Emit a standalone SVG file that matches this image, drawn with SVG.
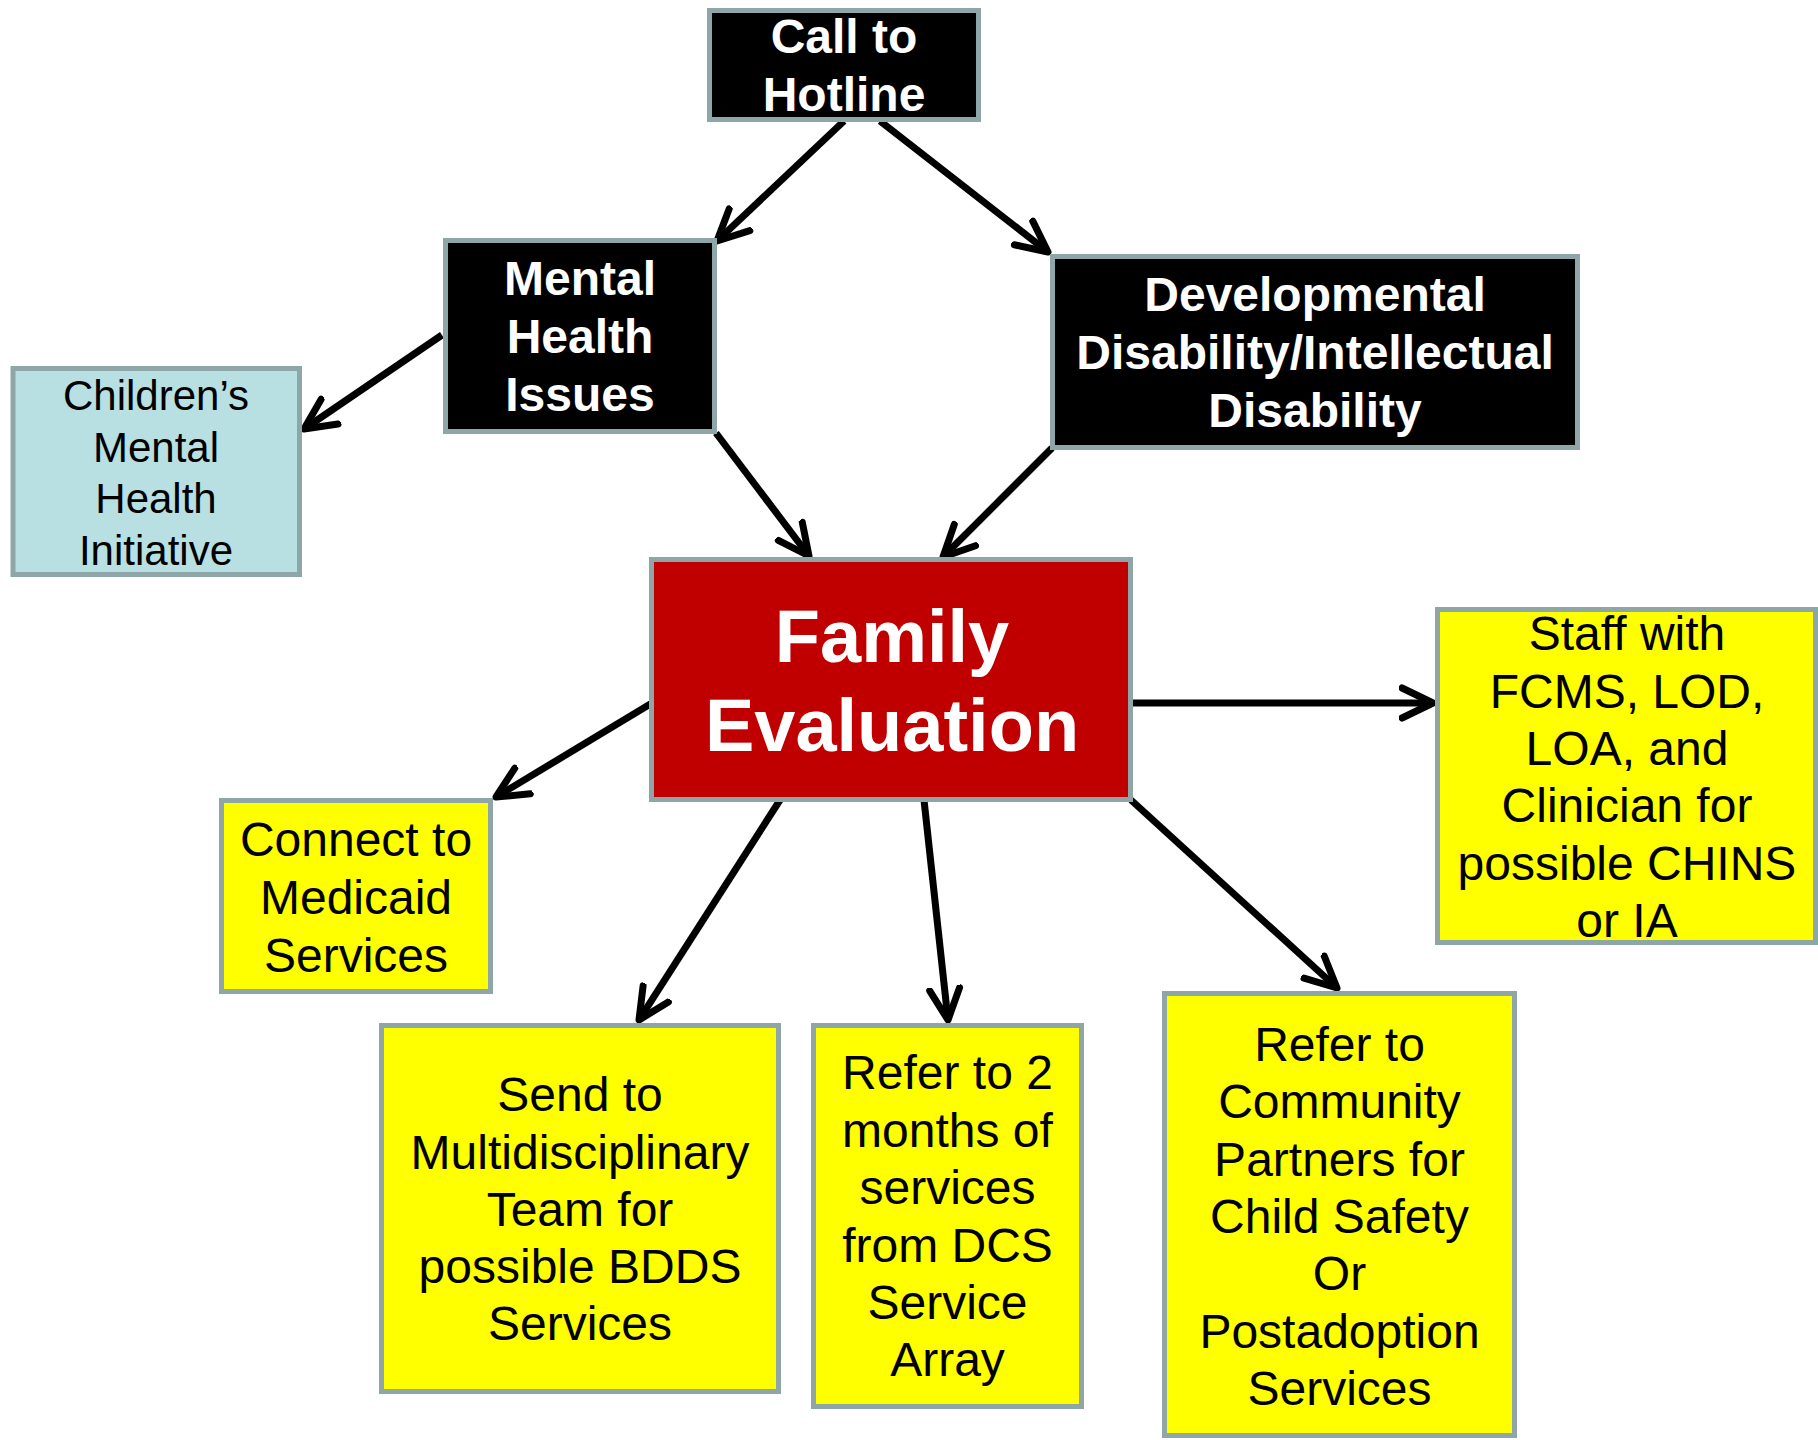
<svg xmlns="http://www.w3.org/2000/svg" width="1818" height="1440" viewBox="0 0 1818 1440">
<defs>
<style>
.box{stroke:#8FA6A8;stroke-width:5}
.blk{fill:#000}
.red{fill:#C00000}
.yel{fill:#FFFF00}
.blu{fill:#B8DFE2}
.tb{font-family:"Liberation Sans",Arial,sans-serif;font-weight:bold;fill:#fff;text-anchor:middle;font-size:48px}
.tr{font-family:"Liberation Sans",Arial,sans-serif;fill:#000;text-anchor:middle;font-size:48px}
.edge{stroke:#000;stroke-width:7;fill:none;marker-end:url(#arr)}
</style>
<marker id="arr" markerUnits="userSpaceOnUse" viewBox="0 0 40 40" markerWidth="40" markerHeight="40" refX="34" refY="20" orient="auto">
<path d="M3,5 L34,20 L3,35" fill="none" stroke="#000" stroke-width="7" stroke-linecap="round" stroke-linejoin="round"/>
</marker>
</defs>
<rect width="1818" height="1440" fill="#fff"/>
<g id="connectors">
<line class="edge" x1="844" y1="121" x2="717" y2="241"/>
<line class="edge" x1="880" y1="121" x2="1048" y2="252"/>
<line class="edge" x1="442" y1="335" x2="304" y2="429"/>
<line class="edge" x1="716" y1="433" x2="809" y2="556"/>
<line class="edge" x1="1052" y1="448" x2="943" y2="557"/>
<line class="edge" x1="652" y1="703" x2="496" y2="797"/>
<line class="edge" x1="780" y1="800" x2="639" y2="1020"/>
<line class="edge" x1="924" y1="800" x2="948" y2="1020"/>
<line class="edge" x1="1133" y1="703" x2="1433" y2="703"/>
<line class="edge" x1="1131" y1="800" x2="1337" y2="988"/>
</g>
<g id="hotline">
<rect class="box blk" x="709.5" y="10.5" width="269" height="109"/>
<text class="tb"><tspan x="844" y="53">Call to</tspan><tspan x="844" y="111">Hotline</tspan></text>
</g>
<g id="mental-health">
<rect class="box blk" x="445.5" y="240.5" width="269" height="191"/>
<text class="tb"><tspan x="580" y="295">Mental</tspan><tspan x="580" y="353">Health</tspan><tspan x="580" y="411">Issues</tspan></text>
</g>
<g id="childrens">
<rect class="box blu" x="13" y="368.5" width="286.5" height="206"/>
<text class="tr" style="font-size:42px"><tspan x="156" y="410">Children’s</tspan><tspan x="156" y="461.5">Mental</tspan><tspan x="156" y="513">Health</tspan><tspan x="156" y="564.5">Initiative</tspan></text>
</g>
<g id="developmental">
<rect class="box blk" x="1052.5" y="256.5" width="525" height="191"/>
<text class="tb"><tspan x="1315" y="311">Developmental</tspan><tspan x="1315" y="369">Disability/Intellectual</tspan><tspan x="1315" y="427">Disability</tspan></text>
</g>
<g id="family-evaluation">
<rect class="box red" x="651.5" y="559.5" width="479" height="240"/>
<text class="tb" style="font-size:74px"><tspan x="892" y="662">Family</tspan><tspan x="892" y="751">Evaluation</tspan></text>
</g>
<g id="medicaid">
<rect class="box yel" x="221.5" y="800.5" width="269" height="191"/>
<text class="tr"><tspan x="356" y="856">Connect to</tspan><tspan x="356" y="914">Medicaid</tspan><tspan x="356" y="972">Services</tspan></text>
</g>
<g id="multidisciplinary">
<rect class="box yel" x="381.5" y="1025.5" width="397" height="366"/>
<text class="tr"><tspan x="580" y="1111">Send to</tspan><tspan x="580" y="1168.5">Multidisciplinary</tspan><tspan x="580" y="1226">Team for</tspan><tspan x="580" y="1283">possible BDDS</tspan><tspan x="580" y="1340">Services</tspan></text>
</g>
<g id="dcs-services">
<rect class="box yel" x="813.5" y="1025.5" width="268" height="381"/>
<text class="tr"><tspan x="947.5" y="1089">Refer to 2</tspan><tspan x="947.5" y="1146.5">months of</tspan><tspan x="947.5" y="1204">services</tspan><tspan x="947.5" y="1261.5">from DCS</tspan><tspan x="947.5" y="1319">Service</tspan><tspan x="947.5" y="1376">Array</tspan></text>
</g>
<g id="community">
<rect class="box yel" x="1164.5" y="993.5" width="350" height="442"/>
<text class="tr"><tspan x="1339.5" y="1061">Refer to</tspan><tspan x="1339.5" y="1118">Community</tspan><tspan x="1339.5" y="1175.5">Partners for</tspan><tspan x="1339.5" y="1233">Child Safety</tspan><tspan x="1339.5" y="1290">Or</tspan><tspan x="1339.5" y="1347.5">Postadoption</tspan><tspan x="1339.5" y="1405">Services</tspan></text>
</g>
<g id="staff">
<rect class="box yel" x="1437.5" y="609.5" width="378" height="333"/>
<text class="tr"><tspan x="1627" y="650">Staff with</tspan><tspan x="1627" y="707.5">FCMS, LOD,</tspan><tspan x="1627" y="765">LOA, and</tspan><tspan x="1627" y="822">Clinician for</tspan><tspan x="1627" y="880">possible CHINS</tspan><tspan x="1627" y="937">or IA</tspan></text>
</g>
</svg>
